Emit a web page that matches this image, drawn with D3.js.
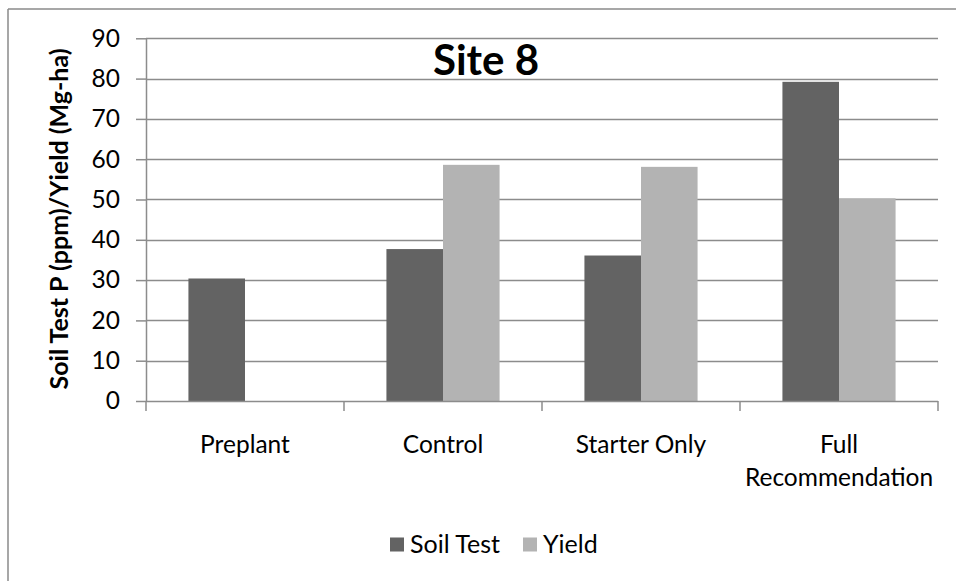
<!DOCTYPE html>
<html>
<head>
<meta charset="utf-8">
<script src="https://cdn.jsdelivr.net/npm/d3@7"></script>
<style>
  html, body { margin: 0; padding: 0; background: #fff; }
  svg { display: block; }
  text { font-family: Lato, "Open Sans", sans-serif; fill: #000; }
</style>
</head>
<body>
<svg id="chart" width="956" height="581"></svg>
<script>
// Site 8: soil test P and yield by treatment
const categories = ["Preplant", "Control", "Starter Only", "Full Recommendation"];
const soilTest = [30.4, 37.7, 36.1, 79.2];
const yieldVals = [null, 58.6, 58.1, 50.3];
const seriesNames = ["Soil Test", "Yield"];
const yTicks = [0, 10, 20, 30, 40, 50, 60, 70, 80, 90];

const colors = { "Soil Test": "#636363", "Yield": "#b3b3b3" };

const svg = d3.select("#chart");
const W = 956, H = 581;

// outer frame (left and top edges visible)
svg.append("line").attr("x1", 8).attr("y1", 9).attr("x2", 8).attr("y2", H)
  .attr("stroke", "#8a8a8a").attr("stroke-width", 1.5);
svg.append("line").attr("x1", 8).attr("y1", 9).attr("x2", W).attr("y2", 9)
  .attr("stroke", "#8a8a8a").attr("stroke-width", 1.5);

const x0 = d3.scaleBand().domain(categories).range([146, 938]).paddingInner(0).paddingOuter(0);
const y = d3.scaleLinear().domain([0, 90]).range([401, 38.3]);
// two bars per group, 150% gap
const bw = x0.bandwidth() / 3.5;
const x1 = d3.scaleBand().domain(seriesNames)
  .range([x0.bandwidth() / 2 - bw, x0.bandwidth() / 2 + bw]).padding(0);

// horizontal gridlines
svg.append("g").selectAll("line").data(yTicks.filter(d => d > 0)).join("line")
  .attr("x1", 146).attr("x2", 938)
  .attr("y1", d => Math.round(y(d)) + 0.5).attr("y2", d => Math.round(y(d)) + 0.5)
  .attr("stroke", "#8c8c8c").attr("stroke-width", 1.5);

// y axis
const yAxis = svg.append("g").attr("transform", "translate(146,0)")
  .call(d3.axisLeft(y).tickValues(yTicks).tickSize(10).tickPadding(16).tickSizeOuter(0));
yAxis.select(".domain").attr("stroke", "#8c8c8c").attr("stroke-width", 1.5);
yAxis.selectAll(".tick line").attr("stroke", "#8c8c8c").attr("stroke-width", 1.5);
yAxis.selectAll(".tick text").attr("font-family", "Lato").attr("font-size", 24.5).attr("fill", "#000");

// bars
const rows = categories.map((c, i) => ({ cat: c, vals: [
  { s: "Soil Test", v: soilTest[i] }, { s: "Yield", v: yieldVals[i] }
]}));
const groups = svg.append("g").selectAll("g").data(rows).join("g")
  .attr("transform", d => `translate(${x0(d.cat)},0)`);
groups.selectAll("rect").data(d => d.vals.filter(e => e.v != null)).join("rect")
  .attr("x", d => x1(d.s))
  .attr("width", x1.bandwidth())
  .attr("y", d => y(d.v))
  .attr("height", d => y(0) - y(d.v))
  .attr("fill", d => colors[d.s]);

// x axis
const xAxisG = svg.append("g").attr("transform", "translate(0,401)");
xAxisG.append("line").attr("x1", 146).attr("x2", 938).attr("y1", 0.5).attr("y2", 0.5)
  .attr("stroke", "#8c8c8c").attr("stroke-width", 1.5);
const boundaries = categories.map(c => x0(c)).concat([x0(categories[categories.length - 1]) + x0.bandwidth()]);
xAxisG.selectAll(".xt").data(boundaries).join("line").attr("class", "xt")
  .attr("x1", d => d).attr("x2", d => d).attr("y1", 0).attr("y2", 10)
  .attr("stroke", "#8c8c8c").attr("stroke-width", 1.5);

// category labels (wrapped to two lines where needed)
const labelLines = { "Full Recommendation": ["Full", "Recommendation"] };
categories.forEach(c => {
  const lines = labelLines[c] || [c];
  const t = svg.append("text").attr("text-anchor", "middle").attr("font-size", 24.5)
    .attr("x", x0(c) + x0.bandwidth() / 2).attr("y", 453);
  lines.forEach((ln, i) => t.append("tspan")
    .attr("x", x0(c) + x0.bandwidth() / 2).attr("dy", i === 0 ? 0 : 33).text(ln));
});

// title
svg.append("text").attr("x", 486).attr("y", 75).attr("text-anchor", "middle")
  .attr("font-size", 42).attr("font-weight", "bold").text("Site 8");

// y axis title
svg.append("text").attr("transform", "translate(68,219) rotate(-90)")
  .attr("text-anchor", "middle").attr("font-size", 25).attr("font-weight", "bold")
  .text("Soil Test P (ppm)/Yield (Mg-ha)");

// legend
const legend = svg.append("g");
const legendX = [390, 523];
seriesNames.forEach((s, i) => {
  legend.append("rect").attr("x", legendX[i]).attr("y", 537.5).attr("width", 14).attr("height", 14)
    .attr("fill", colors[s]);
  legend.append("text").attr("x", legendX[i] + 20).attr("y", 553).attr("font-size", 25).text(s);
});
</script>
</body>
</html>
